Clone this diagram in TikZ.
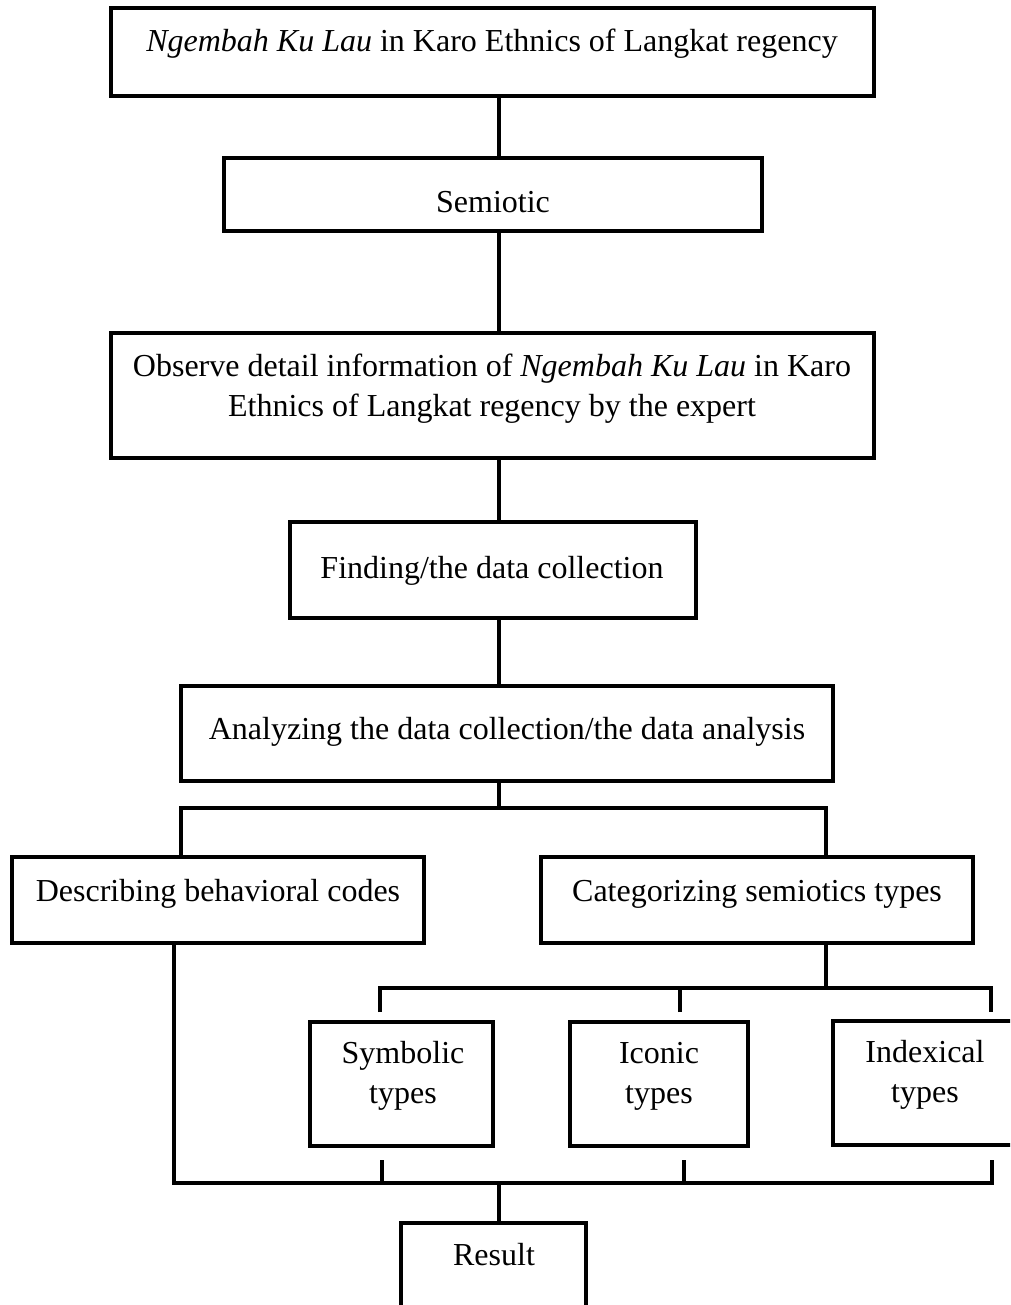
\documentclass[tikz,border=0pt]{standalone}
\usepackage{fontspec}
\setmainfont{Liberation Serif}
\begin{document}
\begin{tikzpicture}[x=1pt,y=-1pt,
  box/.style={draw, line width=3.2pt, inner sep=0pt, rectangle},
  txt/.style={anchor=base, inner sep=0pt, font=\fontsize{32}{40}\selectfont},
  conn/.style={line width=3.2pt}]
\useasboundingbox (0,0) rectangle (1010,1305);
\fill[white] (0,0) rectangle (1010,1305);
\clip (0,0) rectangle (1010,1305);
% helper coordinates
\coordinate (spine) at (499,0);
\coordinate (dL) at (181,0);
\coordinate (dR) at (826,0);
% boxes
\node[box, minimum width=763pt, minimum height=88pt] (top) at (492.5,52) {};
\node[box, minimum width=538pt, minimum height=73pt] (sem) at (493,194.5) {};
\node[box, minimum width=763pt, minimum height=125pt] (obs) at (492.5,395.5) {};
\node[box, minimum width=406pt, minimum height=96pt] (find) at (493,570) {};
\node[box, minimum width=652pt, minimum height=95pt] (ana) at (507,733.5) {};
\node[box, minimum width=412pt, minimum height=86pt] (desc) at (218,900) {};
\node[box, minimum width=432pt, minimum height=86pt] (cat) at (757,900) {};
\node[box, minimum width=183pt, minimum height=124pt] (sym) at (401.5,1084) {};
\node[box, minimum width=178pt, minimum height=124pt] (ico) at (659,1084) {};
\node[box, minimum width=182pt, minimum height=124pt] (idx) at (924,1083) {};
\node[box, minimum width=185pt, minimum height=100pt] (res) at (493.5,1273) {};
% texts
\node[txt] (ttop) at (492,52) {\textit{Ngembah Ku Lau} in Karo Ethnics of Langkat regency};
\node[txt] (tsem) at (493,213) {Semiotic};
\node[txt] (tobs1) at (492,376) {Observe detail information of \textit{Ngembah Ku Lau} in Karo};
\node[txt] (tobs2) at (492,416) {Ethnics of Langkat regency by the expert};
\node[txt] (tfind) at (492,578) {Finding/the data collection};
\node[txt] (tana) at (507,739) {Analyzing the data collection/the data analysis};
\node[txt] (tdesc) at (218,901) {Describing behavioral codes};
\node[txt] (tcat) at (757,901) {Categorizing semiotics types};
\node[txt] (tsym1) at (403,1063) {Symbolic};
\node[txt] (tsym2) at (403,1103) {types};
\node[txt] (tico1) at (659,1063) {Iconic};
\node[txt] (tico2) at (659,1103) {types};
\node[txt] (tidx1) at (925,1062) {Indexical};
\node[txt] (tidx2) at (925,1102) {types};
\node[txt] (tres) at (494,1265) {Result};
% main spine
\draw[conn] (top.south -| spine) -- (sem.north -| spine);
\draw[conn] (sem.south -| spine) -- (obs.north -| spine);
\draw[conn] (obs.south -| spine) -- (find.north -| spine);
\draw[conn] (find.south -| spine) -- (ana.north -| spine);
% first split
\coordinate (b1) at (499,808);
\draw[conn] (ana.south -| spine) -- (b1);
\draw[conn] (desc.north -| dL) |- (b1) -| (cat.north -| dR);
% second split
\coordinate (b2) at (826,988);
\coordinate (k1) at (380,1012);
\coordinate (k2) at (680,1012);
\coordinate (k3) at (991,1012);
\draw[conn] (cat.south -| dR) -- (b2);
\draw[conn] (k1) |- (b2) -| (k3);
\draw[conn] (k2) -- (k2 |- b2);
% collecting bar
\coordinate (c1) at (382,1160);
\coordinate (c2) at (684,1160);
\coordinate (c3) at (992,1160);
\coordinate (b3) at (499,1183);
\draw[conn] (desc.south -| 174,0) |- (b3) -| (c3);
\draw[conn] (c1) -- (c1 |- b3);
\draw[conn] (c2) -- (c2 |- b3);
\draw[conn] (b3) -- (res.north -| spine);
\end{tikzpicture}
\end{document}
